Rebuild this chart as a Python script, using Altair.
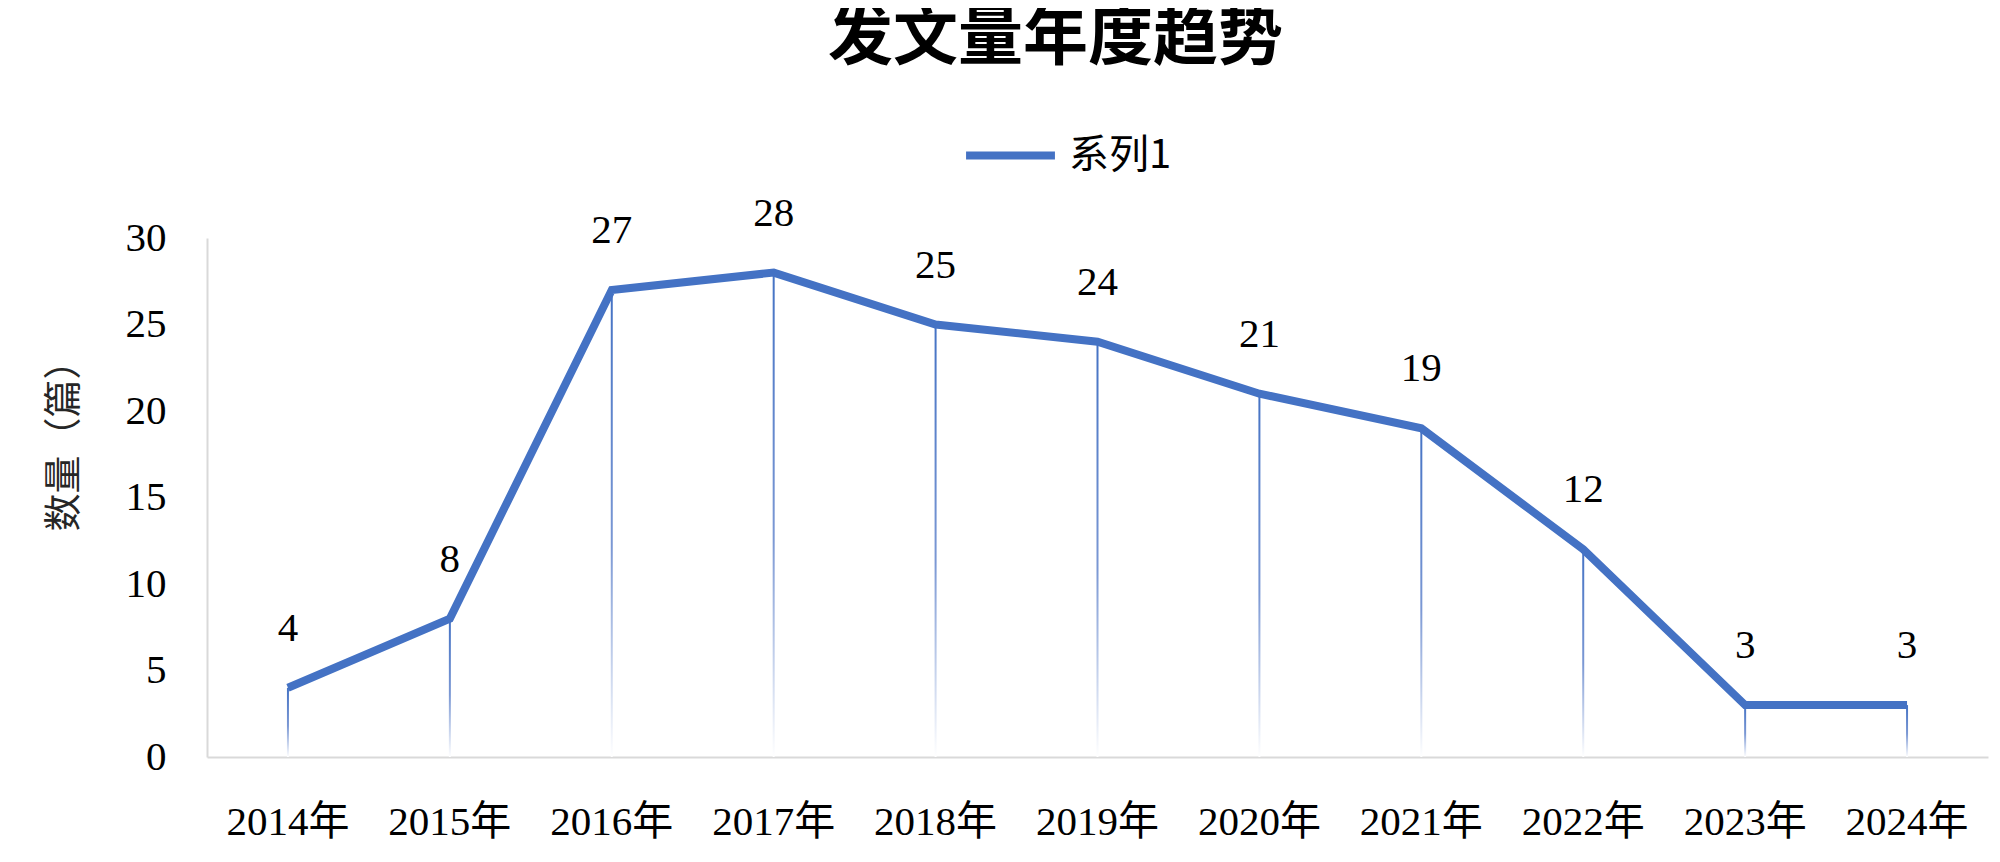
import altair as alt
import pandas as pd

years = ["2014年", "2015年", "2016年", "2017年", "2018年", "2019年",
         "2020年", "2021年", "2022年", "2023年", "2024年"]
counts = [4, 8, 27, 28, 25, 24, 21, 19, 12, 3, 3]
series_name = "系列1"
y_ticks = [0, 5, 10, 15, 20, 25, 30]

df = pd.DataFrame({"year": years, "count": counts, "series": [series_name] * len(years)})

BLUE = "#4472C4"
SERIF = "Liberation Serif, Noto Sans CJK SC"
CJK = "Noto Sans CJK SC"

x_enc = alt.X("year:N", sort=years, title=None,
              scale=alt.Scale(paddingInner=0, paddingOuter=0),
              axis=alt.Axis(labelAngle=0, labelFont=SERIF, labelFontSize=41,
                            labelColor="#000000", labelPadding=45, ticks=False, tickSize=0,
                            domainColor="#D9D9D9", domainWidth=2, grid=False))
y_enc = alt.Y("count:Q", stack=None,
              scale=alt.Scale(domain=[0, 30], nice=False),
              axis=alt.Axis(values=y_ticks, title="数量（篇）", titleFont=CJK, titleFontSize=38,
                            titleFontWeight="normal", titleColor="#262626", titleAngle=-90,
                            titleX=-143, titleY=198, titleAlign="center", titleBaseline="middle",
                            labelFont=SERIF, labelFontSize=41, labelColor="#000000",
                            labelPadding=41, ticks=False, tickSize=0, grid=False,
                            domainColor="#D9D9D9", domainWidth=2))

grad = alt.Gradient(gradient="linear", x1=0, y1=0, x2=0, y2=1,
                    stops=[alt.GradientStop(offset=0, color="#4472C4"),
                           alt.GradientStop(offset=0.55, color="#7B98D4"),
                           alt.GradientStop(offset=1, color="#FFFFFF")])

drops = alt.Chart(df).mark_bar(size=2, color=grad).encode(x=x_enc, y=y_enc)

line = alt.Chart(df).mark_line(strokeWidth=8).encode(
    x=x_enc, y=y_enc,
    color=alt.Color("series:N", title=None,
                    scale=alt.Scale(domain=[series_name], range=[BLUE]),
                    legend=alt.Legend(orient="none", legendX=755, legendY=-131,
                                      symbolType="stroke", symbolSize=7900,
                                      symbolStrokeWidth=8, labelFont=CJK,
                                      labelFontSize=40, labelColor="#000000",
                                      labelOffset=10, padding=0)))

labels = alt.Chart(df).mark_text(font=SERIF, fontSize=41, color="#000000",
                                 baseline="middle", dy=-59).encode(
    x=x_enc, y=y_enc, text="count:Q")

chart = alt.layer(drops, line, labels).properties(
    width=1781, height=519,
    title=alt.TitleParams("发文量年度趋势", font=CJK, fontSize=65, fontWeight="bold",
                          color="#000000", anchor="middle", frame="group", dx=-42, offset=34),
    autosize=alt.AutoSizeParams(type="none"),
    padding={"left": 199, "top": 230, "right": 4, "bottom": 96},
).configure_view(stroke=None)

chart.save("out.html", embed_options={"renderer": "svg", "actions": False})
